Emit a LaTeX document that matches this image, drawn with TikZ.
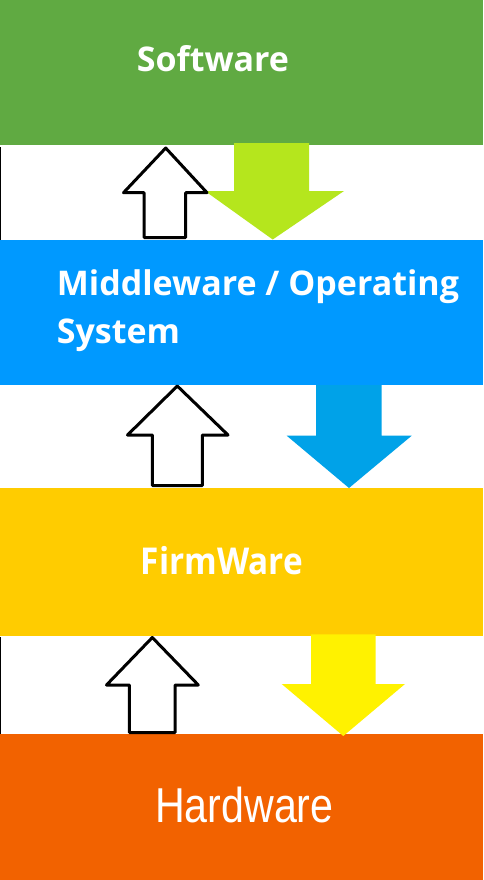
\documentclass[tikz,border=0pt]{standalone}
\usepackage{fontspec}
\setmainfont{Open Sans}
\newfontfamily\arialfont{Liberation Sans}
\definecolor{bandgreen}{RGB}{96,170,66}
\definecolor{bandblue}{RGB}{0,153,255}
\definecolor{bandyellow}{RGB}{255,204,0}
\definecolor{bandorange}{RGB}{242,98,0}
\definecolor{arrlime}{RGB}{181,230,29}
\definecolor{arrblue}{RGB}{0,162,232}
\definecolor{arryellow}{RGB}{255,242,0}
\tikzset{
  uparrow/.style={draw=black, line width=3pt, line join=round, fill=white},
  lbl/.style={text=white, font=\bfseries, anchor=base west, inner sep=0pt},
}
\begin{document}
\begin{tikzpicture}[x=1pt,y=-1pt]
\useasboundingbox (0,0) rectangle (483,880);
\fill[white] (0,0) rectangle (483,880);
% bands
\fill[bandgreen] (0,0) rectangle (483,145);
\fill[bandblue] (0,240) rectangle (483,385);
\fill[bandyellow] (0,488) rectangle (483,636);
\fill[bandorange] (0,734) rectangle (483,880);
% thin left edge lines
\draw[black, line width=1pt] (0.5,147) -- (0.5,240);
\draw[black, line width=1pt] (0.5,637) -- (0.5,734);
% down arrows
\fill[arrlime] (234,143) -- (309,143) -- (309,191) -- (344,191) -- (272.7,239.5) -- (205,191) -- (234,191) -- cycle;
\fill[arrblue] (316,385) -- (381.7,385) -- (381.7,435.7) -- (411.7,435.7) -- (349,488) -- (286.7,435.7) -- (316,435.7) -- cycle;
\fill[arryellow] (311,634.3) -- (375.7,634.3) -- (375.7,684) -- (405,684) -- (343.3,736) -- (281.7,684) -- (311,684) -- cycle;
% up arrows
\draw[uparrow] (165.7,148) -- (207,192.7) -- (185.7,192.7) -- (185.7,237.5) -- (144,237.5) -- (144,192.7) -- (123.5,192.7) -- cycle;
\draw[uparrow] (177.3,386) -- (228,435) -- (202.3,435) -- (202.3,485.5) -- (152.3,485.5) -- (152.3,435) -- (127.5,435) -- cycle;
\draw[uparrow] (152.3,637.5) -- (198.3,685) -- (175,685) -- (175,732.5) -- (129.3,732.5) -- (129.3,685) -- (106.5,685) -- cycle;
% labels
\node[lbl, font=\bfseries\fontsize{34}{40}\selectfont] (sw) at (136.7,71.7) {Software};
\node[lbl, font=\bfseries\fontsize{34}{40}\selectfont] (mw1) at (56.7,295) {Middleware / Operating};
\node[lbl, font=\bfseries\fontsize{34}{40}\selectfont] (mw2) at (56.7,343.3) {System};
\node[lbl, font=\bfseries\fontsize{37}{40}\selectfont] (fw) at (140.7,574.3) {\scalebox{0.9}[1]{FirmWare}};
\node[lbl, font=\arialfont\fontsize{49}{52}\selectfont] (hw) at (155,822.3) {\scalebox{0.84}[1]{Hardware}};
\end{tikzpicture}
\end{document}
